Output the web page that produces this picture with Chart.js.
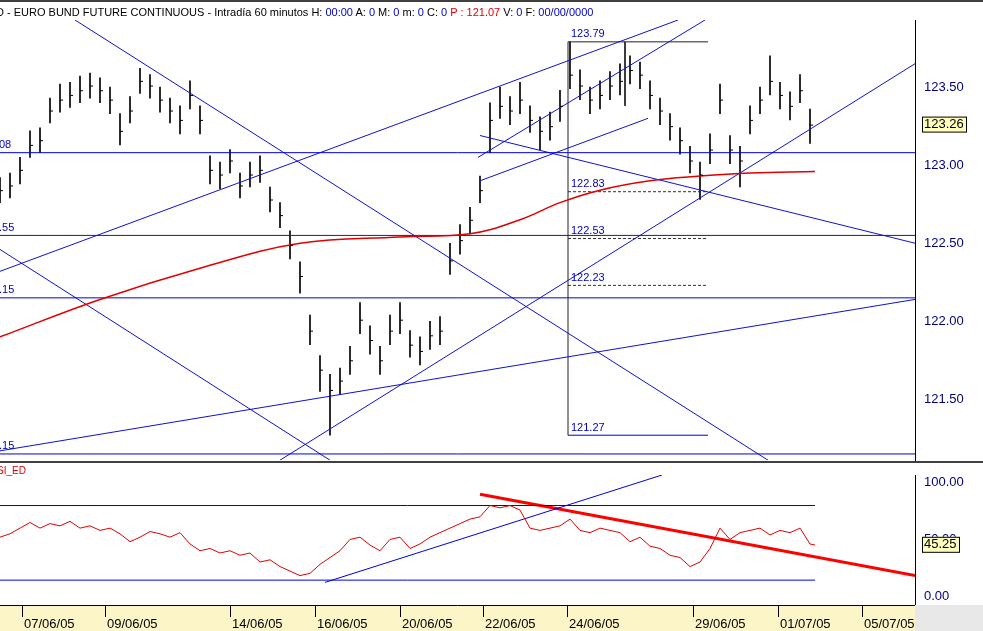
<!DOCTYPE html>
<html><head><meta charset="utf-8">
<script src="https://cdn.jsdelivr.net/npm/chart.js@4"></script>
<style>
body{margin:0;width:983px;height:631px;overflow:hidden;background:#fff;font-family:"Liberation Sans",Arial,sans-serif;position:relative}
#title{position:absolute;left:-4px;top:6px;font-size:11px;color:#000;white-space:nowrap;z-index:3}
#title .b{color:#0000c0}#title .r{color:#e00000}
#c1{position:absolute;left:0;top:0}
#c2{position:absolute;left:0;top:462px;background:#fff}
.sep{position:absolute;left:0;width:983px;height:2px;background:#404040;z-index:2}
</style></head><body>
<div id="title">D - EURO BUND FUTURE CONTINUOUS - Intradía 60 minutos H: <span class="b">00:00</span> A: <span class="b">0</span> M: <span class="b">0</span> m: <span class="b">0</span> C: <span class="b">0</span> <span class="r">P : 121.07</span> V: <span class="b">0</span> F: <span class="b">00/00/0000</span></div>
<div class="sep" style="top:0"></div>
<canvas id="c1" width="983" height="472"></canvas>
<canvas id="c2" width="983" height="169"></canvas>
<div class="sep" style="top:461px"></div>
<script>
const barX=[0,10,20,30,40,50,60,70,80,90,100,110,120,130,140,150,160,170,180,190,200,210,220,230,240,250,260,270,280,290,300,310,320,330,340,350,360,370,380,390,400,410,420,430,440,450,460,470,480,490,500,510,520,530,540,550,560,570,580,590,600,610,620,630,640,650,660,670,680,690,700,710,720,730,740,750,760,770,780,790,800,810];
const highs=[122.92,122.95,123.05,123.22,123.24,123.43,123.52,123.53,123.57,123.59,123.56,123.50,123.33,123.44,123.62,123.58,123.50,123.43,123.38,123.54,123.38,123.06,123.02,123.10,122.95,123.02,123.06,122.86,122.76,122.58,122.38,122.04,121.78,121.66,121.70,121.84,122.12,121.97,121.84,122.04,122.12,121.94,121.90,122.00,122.03,122.50,122.62,122.73,122.93,123.40,123.50,123.44,123.53,123.38,123.31,123.34,123.48,123.79,123.61,123.50,123.54,123.60,123.65,123.70,123.66,123.54,123.43,123.33,123.24,123.12,123.02,123.20,123.52,123.19,123.12,123.38,123.50,123.70,123.53,123.47,123.58,123.36];
const lows=[122.76,122.79,122.88,123.05,123.08,123.27,123.34,123.37,123.40,123.43,123.40,123.33,123.13,123.27,123.46,123.43,123.34,123.27,123.20,123.36,123.20,122.88,122.85,122.95,122.79,122.86,122.89,122.70,122.60,122.40,122.18,121.85,121.55,121.27,121.53,121.66,121.92,121.79,121.66,121.85,121.92,121.77,121.72,121.82,121.85,122.30,122.43,122.56,122.76,123.08,123.30,123.26,123.33,123.21,123.10,123.16,123.28,123.49,123.42,123.33,123.36,123.42,123.45,123.52,123.49,123.36,123.26,123.16,123.07,122.95,122.78,123.01,123.33,123.01,122.86,123.20,123.33,123.45,123.36,123.29,123.40,123.14];
const closes=[122.84,122.87,122.97,123.13,123.16,123.35,123.42,123.45,123.48,123.51,123.48,123.42,123.22,123.35,123.54,123.51,123.42,123.35,123.29,123.45,123.29,122.97,122.94,123.03,122.87,122.94,122.97,122.78,122.68,122.49,122.29,121.94,121.69,121.56,121.62,121.75,122.01,121.88,121.75,121.94,122.01,121.85,121.81,121.91,121.94,122.39,122.52,122.65,122.84,123.29,123.38,123.35,123.42,123.29,123.22,123.25,123.38,123.58,123.51,123.42,123.45,123.51,123.54,123.61,123.58,123.45,123.35,123.25,123.16,123.03,122.94,123.10,123.42,123.10,123.03,123.29,123.42,123.54,123.45,123.38,123.48,123.26];
const maX=[0,100,200,300,400,470,520,560,600,650,700,750,815];
const maY=[121.90,122.14,122.34,122.50,122.54,122.56,122.65,122.76,122.84,122.90,122.93,122.95,122.96];
const rsiX=[0,10,20,30,40,50,60,70,80,90,100,110,120,130,140,150,160,170,180,190,200,210,220,230,240,250,260,270,280,290,300,310,320,330,340,350,360,370,380,390,400,410,420,430,440,450,460,470,480,490,500,510,520,530,540,550,560,570,580,590,600,610,620,630,640,650,660,670,680,690,700,710,720,730,740,750,760,770,780,790,800,810,815];
const rsiV=[52,55,60,65,60,64,62,66,60,62,58,60,55,48,52,57,55,52,56,46,40,42,38,40,36,38,30,32,26,22,18,20,28,34,40,50,52,45,40,50,52,42,46,52,56,60,64,68,70,80,78,80,76,60,58,60,62,68,58,56,60,58,56,48,52,44,42,36,34,26,30,42,60,50,56,58,60,54,58,56,60,46,45];
const priceTicks=[121.50,122.00,122.50,123.00,123.50];
const rsiTicks=[0,50,100];
const dateLabels=["07/06/05","09/06/05","14/06/05","16/06/05","20/06/05","22/06/05","24/06/05","29/06/05","01/07/05","05/07/05"];
const dateX=[22,105,230,315,400,483,567,693,778,862];
const fibLevels=[123.79,122.83,122.53,122.23,121.27];
const hLines=[[123.08,"#0000e0","08"],[122.55,"#202060",".55"],[122.15,"#0000e0",".15"],[121.15,"#0000e0",".15"]];
const trend=[[75,123.93,768,121.11,"#1010d0",1],[0,122.46,330,121.11,"#1010d0",1],[0,122.32,678,123.93,"#1010d0",1],[478,123.05,705,123.93,"#1010d0",1],[480,122.90,648,123.30,"#1010d0",1],[480,123.19,915,122.50,"#1010d0",1],[280,121.11,915,123.65,"#1010d0",1],[0,121.17,915,122.14,"#1010d0",1]];
const rsiLines=[[0,80,815,80,"#0000e0",1],[0,14,815,14,"#0000e0",1],[325,12,662,107,"#0000e0",1],[480,90,915,18,"#ff0000",3]];

const lineDS=(arr)=>arr.map(t=>({type:'line',data:[{x:t[0],y:t[1]},{x:t[2],y:t[3]}],borderColor:t[4],borderWidth:t[5],pointRadius:0,order:0}));
const hDS=hLines.map(h=>({type:'line',data:[{x:0,y:h[0]},{x:915,y:h[0]}],borderColor:h[1],borderWidth:1,pointRadius:0}));
const fibDS=[
 {type:'line',data:[{x:568,y:fibLevels[4]},{x:568,y:fibLevels[0]},{x:708,y:fibLevels[0]}],borderColor:"#202020",borderWidth:1,pointRadius:0},
 {type:'line',data:[{x:568,y:fibLevels[4]},{x:708,y:fibLevels[4]}],borderColor:"#0000e0",borderWidth:1,pointRadius:0},
 {type:'line',data:[{x:625,y:fibLevels[0]},{x:625,y:123.38}],borderColor:"#202020",borderWidth:1,pointRadius:0},
 ...fibLevels.slice(1,4).map(v=>({type:'line',data:[{x:568,y:v},{x:708,y:v}],borderColor:"#303030",borderWidth:1,borderDash:[3,2],pointRadius:0}))
];
const labelsPlugin={id:'lbl',afterDatasetsDraw(c){
 const ctx=c.ctx,x=c.scales.x,y=c.scales.y;ctx.save();ctx.font="11px 'Liberation Sans'";ctx.fillStyle="#0000c0";ctx.textBaseline="bottom";
 fibLevels.forEach(v=>ctx.fillText(v.toFixed(2),x.getPixelForValue(571),y.getPixelForValue(v)-2));
 hLines.forEach(h=>ctx.fillText(h[2],-1,y.getPixelForValue(h[0])-2));
 ctx.strokeStyle="#000";ctx.beginPath();
 barX.forEach((bx,i)=>{const px=x.getPixelForValue(bx),py=y.getPixelForValue(closes[i]);ctx.moveTo(px,py+0.5);ctx.lineTo(px+3,py+0.5);});ctx.stroke();
 const py=y.getPixelForValue(123.26);ctx.fillStyle="#ffffc0";ctx.fillRect(922,py-8,45,16);ctx.strokeStyle="#000";ctx.strokeRect(922.5,py-7.5,44,15);
 ctx.fillStyle="#000";ctx.textBaseline="middle";ctx.font="13px 'Liberation Sans'";ctx.fillText("123.26",924,py);
 ctx.restore();}};
new Chart(document.getElementById('c1'),{type:'bar',
 data:{datasets:[{type:'bar',data:barX.map((bx,i)=>({x:bx,y:[lows[i],highs[i]]})),backgroundColor:"#000",barThickness:1,order:2},
  {type:'line',data:maX.map((v,i)=>({x:v,y:maY[i]})),borderColor:"#e00000",borderWidth:1.5,pointRadius:0,tension:0.4},
  ...hDS,...lineDS(trend),...fibDS]},
 options:{responsive:false,animation:false,layout:{padding:{top:20,bottom:0,left:0,right:0}},
  plugins:{legend:{display:false},tooltip:{enabled:false}},
  scales:{x:{type:'linear',min:0,max:915,display:false,offset:false},
   y:{position:'right',min:121.11,max:123.93,afterBuildTicks:a=>{a.ticks=priceTicks.map(v=>({value:v}))},
    ticks:{color:"#000080",font:{size:13,family:"Liberation Sans"},callback:v=>v.toFixed(2),padding:4},
    grid:{display:false,drawTicks:true,tickLength:5,color:"#000"},border:{color:"#000"},afterFit:a=>{a.width=68}}}},
 plugins:[labelsPlugin]});

const rsiPlugin={id:'rsi',afterDatasetsDraw(c){const ctx=c.ctx,y=c.scales.y,x=c.scales.x;ctx.save();
 ctx.fillStyle="#fbf5c8";ctx.fillRect(0,143,915,26);ctx.fillStyle="#e8e8e8";ctx.fillRect(915,143,68,26);
 ctx.strokeStyle="#000";ctx.beginPath();ctx.moveTo(0,143.5);ctx.lineTo(915,143.5);
 dateX.forEach(d=>{ctx.moveTo(d+0.5,143);ctx.lineTo(d+0.5,155);});ctx.stroke();
 ctx.fillStyle="#000";ctx.font="13px 'Liberation Sans'";ctx.textBaseline="alphabetic";
 dateLabels.forEach((l,i)=>ctx.fillText(l,dateX[i]+2,166));
 ctx.fillStyle="#e00000";ctx.font="10px 'Liberation Sans'";ctx.fillText("SI_ED",-3,12);
 const py=y.getPixelForValue(45.25);ctx.fillStyle="#ffffc0";ctx.fillRect(922,py-8,38,16);ctx.strokeStyle="#000";ctx.strokeRect(922.5,py-7.5,37,15);
 ctx.fillStyle="#000";ctx.textBaseline="middle";ctx.font="13px 'Liberation Sans'";ctx.fillText("45.25",924,py);
 ctx.restore();}};
new Chart(document.getElementById('c2'),{type:'line',
 data:{datasets:[{data:rsiX.map((v,i)=>({x:v,y:rsiV[i]})),borderColor:"#e00000",borderWidth:1,pointRadius:0},...lineDS(rsiLines)]},
 options:{responsive:false,animation:false,layout:{padding:{top:13,bottom:26}},
  plugins:{legend:{display:false},tooltip:{enabled:false}},
  scales:{x:{type:'linear',min:0,max:915,display:false},
   y:{position:'right',min:-8,max:107,afterBuildTicks:a=>{a.ticks=rsiTicks.map(v=>({value:v}))},
    ticks:{color:"#000080",font:{size:13,family:"Liberation Sans"},callback:v=>v.toFixed(2),padding:4},
    grid:{display:false,drawTicks:true,tickLength:5,color:"#000"},border:{color:"#000"},afterFit:a=>{a.width=68}}}},
 plugins:[rsiPlugin]});
</script></body></html>
